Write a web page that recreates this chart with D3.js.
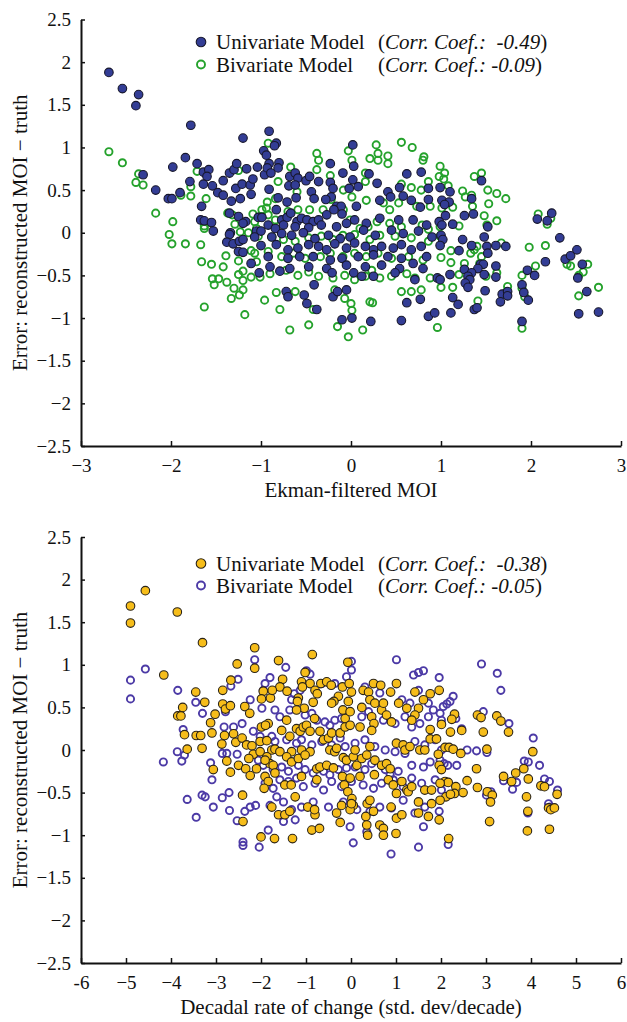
<!DOCTYPE html>
<html lang="en">
<head>
<meta charset="UTF-8">
<title>Reconstruction error vs MOI</title>
<script src="https://cdn.jsdelivr.net/npm/d3@7"></script>
<style>
    body { margin: 0; background: #fff; }
    svg { display: block; }
    text { font-family: 'Liberation Serif', 'Times New Roman', serif; fill: #111; white-space: pre; }
</style>
</head>
<body>
<svg id="chart" width="627" height="1022"></svg>
<script>
// ---- top panel: error vs Ekman-filtered MOI ----
const ekmanUnivariate = [
    [-2.69,1.88],[-2.54,1.69],[-2.36,1.62],[-2.39,1.49],[-1.78,1.26],[-1.20,1.11],[-1.84,0.88],[-1.98,0.77],[-1.71,0.81],[-2.31,0.68],
    [-2.17,0.50],[-2.03,0.40],[-1.99,0.40],[-1.90,0.47],[-1.79,0.60],[-1.66,0.31],[-1.64,0.71],[-1.58,0.74],[-1.60,0.66],[-1.64,0.57],
    [-1.54,0.55],[-1.48,0.47],[-1.42,0.44],[-1.42,0.61],[-1.35,0.70],[-1.30,0.74],[-1.27,0.81],[-1.16,0.75],[-1.28,0.52],[-1.21,0.57],
    [-1.12,0.56],[-1.11,0.45],[-1.09,0.63],[-1.33,0.37],[-1.23,0.40],[-1.04,0.77],[-0.97,0.96],[-0.96,0.68],[-1.67,0.15],[-1.63,0.14],
    [-1.55,0.12],[-1.53,0.02],[-1.35,0.23],[-1.25,0.19],[-1.17,0.13],[-1.20,0.11],[-1.03,0.18],[-0.99,0.18],[-1.34,0.00],[-1.35,-0.02],
    [-1.38,-0.11],[-1.31,-0.13],[-1.24,-0.10],[-1.20,-0.08],[-1.05,0.02],[-1.00,0.02],[-1.00,-0.15],[-1.07,-0.05],[-1.25,-0.22],[-1.20,-0.23],
    [-1.11,-0.36],[-1.02,-0.47],
    [-0.91,1.19],[-0.83,1.05],[-0.85,1.02],[-0.94,0.91],[-0.91,0.81],[-0.93,0.76],[-0.89,0.70],[-0.80,0.82],[-0.81,0.76],[-0.91,0.51],
    [0.02,1.03],[-0.23,0.81],[-0.09,0.70],[0.03,0.78],[0.02,0.62],[-0.68,0.66],[-0.62,0.70],[-0.59,0.64],[-0.69,0.55],[-0.62,0.56],
    [-0.50,0.61],[-0.46,0.66],[-0.36,0.60],[-0.23,0.59],[-0.20,0.52],[-0.22,0.42],[-0.44,0.48],[-0.41,0.40],[-0.02,0.52],[0.08,0.54],
    [0.20,0.69],[0.29,0.58],[0.41,0.48],[0.54,0.53],[0.62,0.69],[0.78,0.71],[0.86,0.52],[-0.81,0.41],[-0.71,0.36],[-0.61,0.41],
    [-0.28,0.39],[-0.16,0.31],[-0.11,0.31],[0.06,0.31],[0.32,0.38],[0.44,0.42],[0.58,0.43],[0.67,0.38],[0.77,0.30],[0.86,0.39],
    [-0.83,0.27],[-0.77,0.15],[-0.71,0.18],[-0.67,0.23],[-0.60,0.13],[-0.55,0.17],[-0.49,0.15],[-0.42,0.13],[-0.36,0.15],[-0.27,0.21],
    [-0.19,0.27],[-0.10,0.22],[0.04,0.15],[0.17,0.11],[0.32,0.17],[0.53,0.15],[0.69,0.15],[0.84,0.09],
    [-0.92,0.09],[-0.84,0.05],[-0.75,0.09],[-0.62,0.07],[-0.47,0.06],[-0.33,0.09],[-0.16,0.07],[-0.05,0.11],
    [-0.88,-0.05],[-0.77,-0.01],[-0.66,-0.03],[-0.53,0.00],[-0.40,-0.07],[-0.25,-0.03],[-0.12,-0.07],[-0.01,-0.05],[0.14,0.03],[0.27,-0.03],
    [0.45,0.03],[0.58,-0.01],[0.75,0.02],[0.90,-0.05],
    [-0.83,-0.14],[-0.70,-0.20],[-0.59,-0.18],[-0.47,-0.14],[-0.36,-0.16],[-0.27,-0.20],[-0.18,-0.13],[-0.05,-0.18],[0.04,-0.12],[0.16,-0.16],
    [0.25,-0.20],[0.34,-0.16],[0.47,-0.18],[0.56,-0.14],[0.67,-0.20],[0.78,-0.16],
    [-0.92,-0.28],[-0.70,-0.30],[-0.57,-0.28],[-0.42,-0.28],[-0.23,-0.32],[-0.10,-0.30],[0.08,-0.28],[0.25,-0.26],[0.41,-0.28],[0.56,-0.30],[0.84,-0.28],
    [-0.90,-0.40],[-0.79,-0.45],[-0.68,-0.42],[-0.47,-0.40],[-0.27,-0.42],[-0.05,-0.38],[0.16,-0.40],[0.34,-0.38],[0.54,-0.42],[0.69,-0.36],[0.80,-0.42],
    [-0.21,-0.47],[0.03,-0.47],[0.12,-0.51],[0.25,-0.51],[0.49,-0.47],[0.71,-0.55],
    [-0.72,-0.69],[-0.70,-0.75],[-0.52,-0.73],[-0.49,-0.83],[-0.41,-0.61],[-0.38,-0.90],[-0.20,-0.75],[-0.15,-0.69],[-0.05,-0.67],[0.01,-1.00],
    [-0.10,-1.02],[0.22,-1.04],[0.56,-1.03],[0.62,-0.82],[0.77,-0.78],[0.86,-0.98],
    [1.45,0.61],[0.99,0.53],[1.10,0.48],[1.34,0.40],[1.01,0.38],[1.09,0.36],[1.04,0.33],[1.26,0.20],[1.36,0.22],[1.05,0.20],
    [0.98,0.13],[1.01,0.09],[1.13,0.10],[1.52,0.07],[2.07,0.16],[2.18,0.14],[2.23,0.23],[2.32,-0.06],[1.00,-0.03],[1.02,-0.08],
    [0.99,-0.15],[1.24,-0.08],[1.48,-0.05],[1.34,-0.15],[1.51,-0.16],[1.61,-0.15],[1.72,-0.16],[1.20,-0.21],[1.52,-0.24],[1.44,-0.37],
    [1.47,-0.37],[1.41,-0.42],[1.61,-0.39],[1.26,-0.43],[1.34,-0.47],[1.30,-0.51],[1.32,-0.55],[0.96,-0.53],[0.99,-0.55],[1.10,-0.49],
    [1.48,-0.49],[1.61,-0.52],[1.27,-0.59],[1.30,-0.64],[1.49,-0.68],[2.16,-0.34],[1.96,-0.44],[2.04,-0.50],[2.38,-0.31],[2.44,-0.27],
    [2.51,-0.20],[2.57,-0.37],[2.52,-0.53],[2.62,-0.69],[1.90,-0.61],[1.92,-0.70],[1.97,-0.79],[1.68,-0.72],[1.74,-0.69],[1.74,-0.74],
    [1.66,-0.81],[1.13,-0.76],[1.19,-0.84],[1.11,-0.94],[1.37,-0.90],[1.40,-0.88],[1.90,-1.04],[2.53,-0.95],[2.75,-0.93],[0.93,-0.94]
];

const ekmanBivariate = [
    [-2.69,0.95],[-2.54,0.82],[-2.36,0.69],[-2.39,0.59],[-2.31,0.56],[-2.17,0.23],[-1.98,0.13],[-2.02,-0.02],[-1.99,-0.13],[-1.84,-0.13],
    [-1.71,0.72],[-1.78,0.54],[-1.78,0.43],[-1.89,0.44],[-1.61,0.40],[-1.67,-0.14],[-1.66,-0.34],[-1.55,-0.37],[-1.54,-0.54],[-1.52,-0.61],
    [-1.47,-0.54],[-1.63,0.05],[-1.39,-0.27],[-1.42,-0.40],[-1.32,0.21],[-1.29,0.10],[-1.23,0.01],[-1.25,0.73],[-1.25,-0.33],[-1.25,-0.49],
    [-1.20,-0.45],[-1.20,-0.56],[-1.30,-0.65],[-1.33,-0.77],[-1.24,-0.73],[-1.20,-0.67],[-1.63,-0.87],[-1.18,-0.96],[-1.11,-0.21],[-1.05,-0.34],
    [-1.11,-0.52],[-1.01,-0.52],[-0.96,-0.79],[-1.38,-0.58],[-1.63,0.08],[-1.37,0.23],[-1.09,0.22],[-1.14,0.00],[-1.01,0.19],
    [-0.92,1.05],[-0.38,0.93],[-0.36,0.85],[-0.03,0.96],[0.01,0.85],[0.28,1.03],[0.30,0.93],[0.30,0.85],[0.41,0.90],[0.41,0.81],
    [0.56,1.06],[0.68,1.00],[0.81,0.89],[0.80,0.85],[0.21,0.87],[-0.67,0.77],[-0.23,0.67],[-0.38,0.74],[-0.81,0.60],[-0.60,0.48],
    [-0.085,0.50],[0.16,0.60],[0.16,0.70],[0.56,0.57],[0.67,0.53],[0.78,0.50],[0.86,0.60],
    [-0.93,0.36],[-0.99,0.27],[-0.94,0.29],[-0.84,0.40],[-0.22,0.39],[0.01,0.42],[0.17,0.38],[0.36,0.35],[0.43,0.27],[0.53,0.35],
    [0.73,0.31],[0.88,0.31],
    [-1.07,0.13],[-1.05,0.05],[-0.92,0.21],[-0.84,0.15],[-0.70,0.25],[-0.59,0.27],[-0.46,0.27],[-0.31,0.27],[-0.085,0.27],[-0.01,0.15],
    [0.10,0.05],[0.19,0.07],[0.29,0.13],[0.43,0.11],[0.56,0.07],[0.79,0.09],[0.86,0.04],[0.99,0.07],
    [-1.03,-0.04],[-0.88,-0.05],[-0.75,-0.08],[-0.62,-0.10],[-0.47,-0.06],[-0.33,-0.04],[-0.20,-0.08],[-0.09,-0.03],[0.04,-0.02],[0.21,-0.08],
    [0.32,-0.03],[0.49,-0.04],[0.67,-0.06],[0.86,-0.10],[0.99,-0.04],
    [-1.07,-0.24],[-0.92,-0.22],[-0.77,-0.28],[-0.64,-0.24],[-0.51,-0.30],[-0.34,-0.28],[-0.23,-0.24],[-0.09,-0.28],[0.04,-0.24],[0.17,-0.28],
    [0.30,-0.24],[0.45,-0.30],[0.64,-0.28],[0.80,-0.32],
    [-0.90,-0.48],[-0.72,-0.44],[-0.59,-0.50],[-0.47,-0.46],[-0.36,-0.51],[-0.20,-0.53],[-0.07,-0.50],[0.04,-0.55],[0.16,-0.51],[0.23,-0.44],
    [0.32,-0.53],[0.45,-0.51],[0.62,-0.48],[0.71,-0.53],[0.88,-0.53],
    [-0.83,-0.70],[-0.79,-0.90],[-0.62,-0.69],[-0.47,-1.08],[-0.42,-0.90],[-0.18,-0.67],[-0.15,-1.10],[-0.07,-0.77],[-0.03,-1.22],[0.01,-0.91],
    [0.13,-1.14],[0.21,-0.81],[0.24,-0.82],[0.56,-0.69],[0.67,-0.69],[0.78,-0.67],[-0.68,-1.14],[0.00,-0.83],
    [0.99,0.78],[1.04,0.70],[0.98,0.66],[1.03,0.63],[1.08,0.55],[1.45,0.70],[1.37,0.66],[1.24,0.49],[1.34,0.44],[1.27,0.42],
    [1.52,0.50],[1.62,0.46],[1.72,0.40],[1.53,0.34],[1.35,0.31],[1.01,0.29],[1.13,0.30],[1.48,0.20],[1.62,0.14],[1.20,0.08],
    [1.51,0.09],[2.08,0.22],[2.22,0.17],[2.18,0.10],[1.67,-0.12],[1.40,-0.16],[1.37,-0.20],[1.45,-0.28],[1.43,-0.36],[1.98,-0.17],
    [2.16,-0.15],[1.00,-0.29],[1.11,-0.21],[1.11,-0.35],[1.26,-0.36],[1.33,-0.24],[2.05,-0.39],[2.40,-0.37],[2.44,-0.39],[2.63,-0.37],
    [2.58,-0.46],[2.53,-0.50],[1.90,-0.50],[1.20,-0.49],[1.62,-0.47],[1.50,-0.51],[1.74,-0.63],[1.73,-0.69],[1.00,-0.64],[1.13,-0.64],
    [1.41,-0.80],[1.90,-0.65],[1.93,-0.75],[2.53,-0.74],[2.75,-0.64],[0.96,-1.11],[1.90,-1.12]
];

// ---- bottom panel: error vs decadal rate of change ----
const rateUnivariate = [
    [-4.57,1.87],[-4.90,1.69],[-4.90,1.49],[-3.86,1.62],[-3.30,1.26],[-4.16,0.88],[-2.14,1.20],[-2.14,0.96],[-2.53,1.01],[-2.67,0.82],
    [-2.85,0.70],[-3.45,0.68],[-3.25,0.56],[-3.74,0.50],[-3.85,0.40],[-3.78,0.40],[-2.85,0.54],[-2.79,0.48],[-2.68,0.52],[-3.02,0.42],
    [-3.12,0.32],[-3.70,0.18],[-3.44,0.17],[-3.34,0.17],[-3.09,0.20],[-3.64,0.01],[-3.31,0.02],[-2.81,0.17],[-2.87,0.07],[-2.61,0.19],
    [-2.56,0.09],[-2.36,0.51],[-2.25,0.43],[-2.42,0.14],[-2.32,0.06],[-2.20,0.05],[-2.17,-0.05],[-2.27,-0.10],[-2.76,-0.13],[-2.50,-0.18],
    [-2.34,-0.22],[-2.24,-0.30],[-2.68,-0.26],[-3.06,-0.23],[-2.02,0.10],[-1.99,0.27],[-2.41,-0.53],[-2.40,-0.84],[-2.00,-1.02],
    [-0.86,1.12],[-1.61,1.05],[-0.07,1.03],[-1.02,0.91],[-1.52,0.83],[-1.58,0.74],[-1.42,0.69],[-1.95,0.69],[-1.99,0.60],[-1.79,0.61],
    [-1.75,0.70],[-1.10,0.80],[-0.91,0.78],[-1.08,0.74],[-0.80,0.70],[-0.75,0.66],[-1.17,0.61],[-1.19,0.57],[-1.04,0.49],[-1.21,0.47],
    [-0.84,0.56],[-0.67,0.78],[-0.54,0.80],[-0.44,0.76],[-0.28,0.63],[-0.19,0.74],[-0.04,0.78],[0.01,0.68],[-0.38,0.57],[-0.43,0.55],
    [-0.13,0.37],[-0.18,0.47],[-0.02,0.45],[-0.06,0.57],[0.27,0.70],[0.39,0.68],[0.50,0.78],[0.66,0.76],[0.88,0.68],[1.01,0.78],
    [1.06,0.55],[0.42,0.59],[0.53,0.55],[0.68,0.47],[0.79,0.41],[0.90,0.33],[0.72,0.55],[0.24,0.50],[0.46,0.39],[0.51,0.31],
    [0.46,0.23],[1.24,0.49],[1.42,0.68],[1.50,0.49],[1.61,0.59],[1.76,0.66],[1.42,0.41],[1.35,0.35],
    [-1.84,0.31],[-1.90,0.29],[-1.54,0.23],[-1.43,0.35],[-1.36,0.16],[-1.21,0.25],[-1.13,0.22],[-1.06,0.27],[-0.99,0.29],[-0.91,0.22],
    [-0.81,0.37],[-0.69,0.22],[-0.61,0.12],[-0.50,0.14],[-0.43,0.20],[-0.24,0.20],[-0.13,0.27],[-0.02,0.29],[0.20,0.27],
    [-1.87,0.11],[-2.02,-0.02],[-1.76,0.00],[-1.69,0.01],[-1.58,-0.02],[-1.32,-0.02],[-1.10,0.00],[-0.91,-0.02],
    [-1.87,-0.08],[-1.80,-0.16],[-1.73,-0.18],[-2.10,-0.22],[-1.91,-0.12],
    [-1.43,-0.08],[-1.32,-0.14],[-1.17,-0.10],[-1.02,-0.06],[-0.76,-0.22],[-0.69,-0.20],[-0.54,-0.18],[-0.47,0.00],[-0.36,-0.02],[-0.32,0.02],
    [-0.17,-0.09],[-0.10,-0.12],[0.05,-0.08],[0.09,0.00],[0.13,-0.18],[0.24,-0.10],[0.35,-0.06],[0.42,0.04],[0.53,-0.12],[0.68,-0.18],
    [0.79,-0.16],[0.87,-0.22],[1.01,0.08],[1.16,0.06],[1.20,0.00],[1.31,0.04],[1.53,0.00],[1.64,0.00],[1.76,0.13],[1.76,0.24],
    [-1.91,-0.31],[-1.84,-0.37],[-1.93,-0.45],[-1.69,-0.27],[-1.47,-0.41],[-1.33,-0.41],[-1.10,-0.31],[-0.76,-0.35],[-0.39,-0.21],[-0.19,-0.31],
    [-0.02,-0.33],[0.20,-0.31],[-0.15,-0.41],[-0.07,-0.49],[0.02,-0.57],[0.05,-0.65],[-0.02,-0.70],
    [0.52,-0.29],[0.83,-0.35],[0.94,-0.41],[1.13,-0.37],[1.24,-0.47],[1.27,-0.49],[1.01,-0.51],[1.35,-0.43],[1.64,-0.47],[1.79,-0.47],
    [-1.24,-0.55],[-1.76,-0.67],[-1.61,-0.76],[-1.47,-0.76],[-1.36,-0.72],[-0.96,-0.67],[-0.80,-0.76],[-0.81,-0.70],
    [-0.32,-0.74],[-0.21,-0.65],[0.01,-0.63],[0.36,-0.63],[0.42,-0.59],[0.50,-0.72],[0.33,-0.78],[0.35,-0.88],[0.64,-0.88],[0.72,-0.92],
    [0.89,-0.67],[1.01,-0.80],[1.13,-0.76],[-0.24,-0.85],[-0.87,-0.94],[-0.70,-0.92],[-1.70,-1.04],[-1.30,-1.04],[0.37,-1.00],[0.72,-1.00],
    [1.00,-0.98],[1.50,-0.61],[1.72,-0.78],[1.79,-0.63],[1.50,-0.74],
    [1.96,0.70],[2.30,0.42],[2.24,0.36],[2.01,0.30],[2.81,0.41],[2.89,0.38],[3.24,0.40],[3.33,0.34],[2.21,0.21],[2.46,0.23],
    [2.94,0.21],[3.50,0.21],[1.90,0.13],[2.09,0.03],[2.18,0.03],[2.27,0.01],[2.44,-0.04],[3.02,0.01],[1.94,-0.05],[1.96,-0.18],
    [2.01,-0.23],[2.79,-0.22],[4.04,-0.02],[3.84,-0.22],[3.66,-0.27],[3.39,-0.31],[3.57,-0.37],[3.94,-0.34],[2.58,-0.36],[2.09,-0.37],
    [2.16,-0.38],[1.98,-0.39],[2.33,-0.43],[2.81,-0.44],[3.03,-0.49],[3.14,-0.53],[3.10,-0.61],[2.49,-0.50],[2.30,-0.51],[2.11,-0.55],
    [2.21,-0.52],[1.98,-0.59],[4.22,-0.42],[4.30,-0.43],[4.58,-0.52],[3.90,-0.55],[3.93,-0.72],[4.39,-0.68],[4.44,-0.70],[4.52,-0.68],
    [1.96,-0.82],[3.08,-0.84],[3.92,-0.95],[4.41,-0.93],[2.17,-1.04]
];

const rateBivariate = [
    [-4.57,0.95],[-4.90,0.82],[-4.90,0.60],[-3.85,0.70],[-3.45,0.56],[-3.30,0.43],[-3.73,0.24],[-3.70,-0.06],[-3.86,-0.02],[-3.76,-0.13],
    [-4.17,-0.14],[-3.12,-0.15],[-3.09,-0.35],[-3.64,-0.58],[-3.44,-0.79],[-3.31,-0.53],[-3.24,-0.55],[-3.06,-0.67],[-2.86,-0.56],[-2.71,-0.50],
    [-2.70,-0.71],[-2.53,-0.83],[-2.36,-0.72],[-2.24,-0.67],[-2.12,-0.65],[-2.40,-1.08],[-2.40,-1.12],[-2.04,-1.14],[-2.82,0.27],[-2.61,0.27],
    [-2.42,0.31],[-2.67,0.75],[-2.51,0.83],[-2.24,0.59],[-2.14,1.06],[-2.79,0.45],[-2.86,-0.04],[-2.76,-0.04],[-2.53,-0.05],[-2.17,0.22],
    [-2.02,0.16],
    [1.01,1.06],[0.01,1.04],[-1.45,0.97],[-0.99,0.93],[-0.91,0.89],[1.39,0.88],[1.50,0.91],[1.61,0.93],[-1.80,0.85],[-1.91,0.78],
    [-1.95,0.70],[-0.65,0.78],[-0.36,0.78],[-0.10,0.86],[0.01,0.94],[-1.13,0.70],[-1.26,0.66],[-1.32,0.59],[0.31,0.74],[0.64,0.67],
    [1.13,0.59],[1.31,0.55],[1.50,0.70],[1.72,0.55],[1.83,0.47],
    [-1.02,0.41],[-0.87,0.43],[-0.76,0.35],[-0.58,0.33],[-0.47,0.29],[-0.36,0.35],[-0.21,0.37],[-1.98,0.49],[-1.69,0.47],[-1.58,0.39],
    [-1.36,0.47],[0.24,0.39],[0.39,0.45],[0.72,0.35],[0.98,0.31],[1.20,0.39],[1.35,0.27],[1.53,0.31],[1.72,0.39],[1.98,0.43],
    [-1.76,0.16],[-1.69,0.10],[-1.43,0.12],[-1.21,0.08],[-1.10,0.12],[-0.87,0.06],[-0.65,0.10],[-0.43,0.06],[-0.24,0.14],[-0.13,0.04],
    [0.09,0.08],[0.31,0.12],[0.53,0.04],[0.76,0.00],[0.98,-0.02],[1.20,-0.04],[1.42,0.10],[1.64,0.06],[1.87,0.12],[2.01,0.00],
    [-2.06,-0.12],[-1.95,-0.18],[-1.73,-0.23],[-1.54,-0.20],[-1.39,-0.25],[-1.17,-0.18],[-1.02,-0.23],[-0.84,-0.27],[-0.61,-0.25],[-0.47,-0.29],
    [-0.28,-0.23],[-0.10,-0.21],[0.09,-0.20],[0.31,-0.23],[0.46,-0.16],[0.76,-0.23],[0.87,-0.29],[1.05,-0.25],[1.35,-0.18],[1.61,-0.20],
    [1.76,-0.14],[1.98,-0.12],
    [-1.91,-0.39],[-1.73,-0.45],[-1.58,-0.35],[-1.39,-0.37],[-1.21,-0.33],[-1.06,-0.43],[-0.80,-0.39],[-0.61,-0.47],[-0.43,-0.37],[-0.21,-0.43],
    [0.01,-0.37],[0.27,-0.41],[0.50,-0.45],[0.68,-0.39],[0.94,-0.35],[1.16,-0.43],[1.35,-0.33],[1.57,-0.39],[1.87,-0.35],[2.01,-0.47],
    [-1.80,-0.65],[-1.65,-0.55],[-1.50,-0.61],[-1.32,-0.70],[-1.10,-0.67],[-0.84,-0.61],[-0.50,-0.67],[-0.17,-0.61],[0.13,-0.70],[0.42,-0.72],
    [0.64,-0.67],[0.90,-0.68],[1.16,-0.59],[1.42,-0.74],[1.64,-0.67],
    [-1.50,-0.84],[-1.24,-0.82],[-1.84,-0.94],[-0.02,-0.90],[0.05,-1.09],[0.35,-0.96],[0.89,-1.22],[1.50,-1.14],[1.61,-0.90],
    [2.90,1.01],[3.25,0.90],[3.33,0.70],[1.96,0.85],[2.27,0.63],[2.20,0.57],[2.13,0.54],[2.05,0.51],[2.01,0.35],[2.33,0.37],
    [2.94,0.45],[3.51,0.31],[2.46,0.25],[2.58,0.00],[2.79,-0.01],[3.02,-0.03],[4.05,0.14],[3.85,-0.13],[3.94,-0.14],[4.19,-0.18],
    [2.15,-0.18],[2.35,-0.18],[2.07,-0.16],[3.39,-0.36],[3.59,-0.46],[3.68,-0.38],[4.30,-0.34],[4.41,-0.37],[4.59,-0.47],[3.01,-0.53],
    [3.11,-0.49],[4.39,-0.63],[4.42,-0.67],[3.93,-0.74],[1.96,-0.72],[2.16,-1.11]
];

// ---- ticks and labels ----
const errorTicks = [-2.5, -2, -1.5, -1, -0.5, 0, 0.5, 1, 1.5, 2, 2.5];
const errorTickLabels = ["\u22122.5", "\u22122", "\u22121.5", "\u22121", "\u22120.5", "0", "0.5", "1", "1.5", "2", "2.5"];
const ekmanTicks = [-3, -2, -1, 0, 1, 2, 3];
const ekmanTickLabels = ["\u22123", "\u22122", "\u22121", "0", "1", "2", "3"];
const rateTicks = [-6, -5, -4, -3, -2, -1, 0, 1, 2, 3, 4, 5, 6];
const rateTickLabels = ["-6", "\u22125", "\u22124", "\u22123", "\u22122", "\u22121", "0", "1", "2", "3", "4", "5", "6"];

const modelNames = ["Univariate Model", "Bivariate Model"];
const ekmanCorr = [" -0.49", "-0.09"];
const rateCorr = [" -0.38", "-0.05"];

const yTitle = "Error: reconstructed MOI \u2212 truth";
const ekmanTitle = "Ekman-filtered MOI";
const rateTitle = "Decadal rate of change (std. dev/decade)";

const serif = "'Liberation Serif', 'Times New Roman', serif";
const svg = d3.select("#chart");
const plotLeft = 81, plotRight = 621;

function drawPanel(p) {
    const x = d3.scaleLinear().domain(p.xDomain).range([plotLeft, plotRight]);
    const y = d3.scaleLinear().domain([-2.5, 2.5]).range([p.bottom, p.top]);
    const g = svg.append("g");

    // open circles sit underneath the filled ones
    g.append("g").selectAll("circle").data(p.open).join("circle")
        .attr("cx", d => x(d[0]))
        .attr("cy", d => y(d[1]))
        .attr("r", 3.6)
        .attr("fill", "none")
        .attr("stroke", p.openColor)
        .attr("stroke-width", 1.9);

    g.append("g").selectAll("circle").data(p.filled).join("circle")
        .attr("cx", d => x(d[0]))
        .attr("cy", d => y(d[1]))
        .attr("r", 4.3)
        .attr("fill", p.fillColor)
        .attr("stroke", p.fillStroke)
        .attr("stroke-width", 1.1);

    const xAxis = g.append("g")
        .attr("transform", `translate(0,${p.bottom})`)
        .call(d3.axisBottom(x).tickValues(p.xTicks)
            .tickFormat((d, i) => p.xTickLabels[i])
            .tickSizeInner(-5).tickSizeOuter(0).tickPadding(12.5));

    const yAxis = g.append("g")
        .attr("transform", `translate(${plotLeft},0)`)
        .call(d3.axisLeft(y).tickValues(errorTicks)
            .tickFormat((d, i) => errorTickLabels[i])
            .tickSizeInner(-4).tickSizeOuter(0).tickPadding(10));

    [xAxis, yAxis].forEach(a => {
        a.attr("font-size", 19).attr("font-family", serif);
        a.selectAll(".tick text").style("font-family", serif).style("font-size", "19px");
        a.select(".domain").attr("stroke", "#111").attr("stroke-width", 2);
        a.selectAll(".tick line").attr("stroke", "#111").attr("stroke-width", 1.5);
    });

    g.append("text")
        .attr("x", (plotLeft + plotRight) / 2)
        .attr("y", p.bottom + 51)
        .attr("text-anchor", "middle")
        .attr("font-size", 21)
        .text(p.xTitle);

    g.append("text")
        .attr("transform", `translate(27,${(p.top + p.bottom) / 2}) rotate(-90)`)
        .attr("text-anchor", "middle")
        .attr("font-size", 21)
        .text(yTitle);

    // legend
    const styles = [
        { fill: p.fillColor, stroke: p.fillStroke, sw: 1.1, r: 4.8 },
        { fill: "none", stroke: p.openColor, sw: 1.9, r: 4 }
    ];
    modelNames.forEach((name, i) => {
        const cy = p.legendY[i];
        g.append("circle")
            .attr("cx", 201).attr("cy", cy).attr("r", styles[i].r)
            .attr("fill", styles[i].fill)
            .attr("stroke", styles[i].stroke)
            .attr("stroke-width", styles[i].sw);
        g.append("text")
            .attr("x", 216).attr("y", cy + 7)
            .attr("font-size", 21)
            .text(name);
        const t = g.append("text")
            .attr("x", 378).attr("y", cy + 7)
            .attr("font-size", 21);
        t.append("tspan").text("(");
        t.append("tspan").attr("font-style", "italic").text("Corr. Coef.: " + p.corr[i]);
        t.append("tspan").text(")");
    });
}

drawPanel({
    xDomain: [-3, 3], top: 19.5, bottom: 446,
    open: ekmanBivariate, filled: ekmanUnivariate,
    openColor: "#25a22c", fillColor: "#333d95", fillStroke: "#17172c",
    xTicks: ekmanTicks, xTickLabels: ekmanTickLabels, xTitle: ekmanTitle,
    corr: ekmanCorr, legendY: [42, 64.5]
});

drawPanel({
    xDomain: [-6, 6], top: 537, bottom: 963,
    open: rateBivariate, filled: rateUnivariate,
    openColor: "#4c3aa6", fillColor: "#f6bd1a", fillStroke: "#2a2316",
    xTicks: rateTicks, xTickLabels: rateTickLabels, xTitle: rateTitle,
    corr: rateCorr, legendY: [563.5, 585.5]
});
</script>
</body>
</html>
